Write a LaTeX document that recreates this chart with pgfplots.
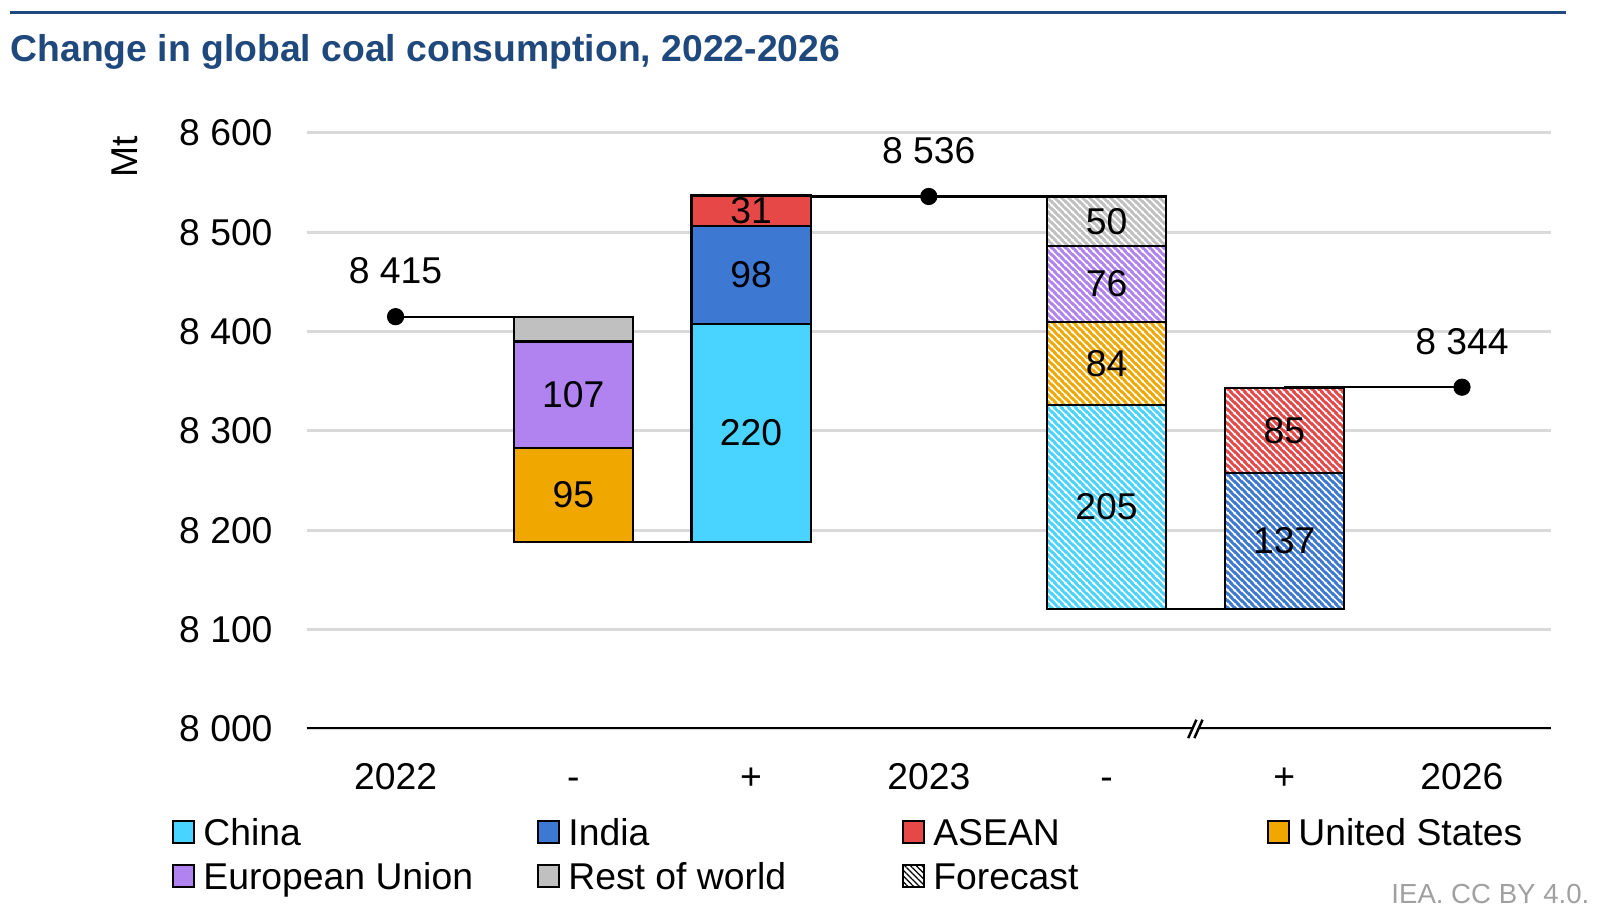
\documentclass[border=0pt]{standalone}
\usepackage{fontspec}
\setmainfont{Liberation Sans}
\usepackage{pgfplots}
\usepackage{pgfplotstable}
\pgfplotsset{compat=1.18}
\usetikzlibrary{patterns,patterns.meta}

\definecolor{cChina}{RGB}{72,212,255}
\definecolor{cIndia}{RGB}{61,120,211}
\definecolor{cASEAN}{RGB}{230,72,72}
\definecolor{cUS}{RGB}{240,168,0}
\definecolor{cEU}{RGB}{176,131,240}
\definecolor{cRest}{RGB}{192,192,192}
\definecolor{cTitle}{RGB}{31,73,125}
\definecolor{cGrid}{RGB}{217,217,217}
\definecolor{cFoot}{RGB}{160,160,160}

% hatched (forecast) patterns: coloured background with white diagonal stripes
\newcommand{\declhatch}[2]{%
  \pgfdeclarepatterninherentlycolored{#1}{\pgfpointorigin}{\pgfpoint{3.3bp}{3.3bp}}{\pgfpoint{3.3bp}{3.3bp}}{%
    \pgfsetfillcolor{#2}%
    \pgfpathrectangle{\pgfpoint{-0.2bp}{-0.2bp}}{\pgfpoint{3.7bp}{3.7bp}}%
    \pgfusepath{fill}%
    \pgfsetstrokecolor{white}\pgfsetlinewidth{0.85bp}%
    \pgfpathmoveto{\pgfpoint{-1bp}{1bp}}\pgfpathlineto{\pgfpoint{1bp}{-1bp}}%
    \pgfpathmoveto{\pgfpoint{-1bp}{4.3bp}}\pgfpathlineto{\pgfpoint{4.3bp}{-1bp}}%
    \pgfpathmoveto{\pgfpoint{2.3bp}{4.3bp}}\pgfpathlineto{\pgfpoint{4.3bp}{2.3bp}}%
    \pgfusepath{stroke}}}
\declhatch{hChina}{cChina}
\declhatch{hIndia}{cIndia}
\declhatch{hASEAN}{cASEAN}
\declhatch{hUS}{cUS}
\declhatch{hEU}{cEU}
\declhatch{hRest}{cRest}

\pgfplotstableread{
x base China ChinaF India IndiaF US USF EU EUF ASEAN ASEANF Rest RestF
1 8188 0 0 0 0 95 0 107 0 0 0 25 0
2 8188 220 0 98 0 0 0 0 0 31 0 0 0
4 8121 0 205 0 0 0 84 0 76 0 0 0 50
5 8121 0 0 0 137 0 0 0 0 0 85 0 0
}\bars

\pgfplotstableread{
x y label
1 8235.5 95
1 8336.5 107
2 8298 220
2 8457 98
2 8521.5 31
4 8223.5 205
4 8368 84
4 8448 76
4 8511 50
5 8189.5 137
5 8300.5 85
}\seglabels

\pgfplotsset{
  common/.style={scale only axis, width=608.5bp, height=291.5bp,
    xmin=-0.5, xmax=6.5, ymin=8000, ymax=8600, at={(0,0)}, anchor=south west},
  solid bar/.style={fill=#1, draw=black, line width=1bp},
  fc bar/.style={pattern=#1, draw=black, line width=1bp},
  legbox/.style={legend image code/.code={\draw[##1, line width=1bp] (0bp,1.25bp) rectangle (10.5bp,11.75bp);}},
}

\begin{document}
\begin{tikzpicture}[font=\fontsize{18.25bp}{22bp}\selectfont]

% axis A: grid, ticks, connectors
\begin{axis}[common,
  axis line style={draw=none}, major tick length=0pt,
  ytick={8000,8100,...,8600},
  yticklabels={8 000,8 100,8 200,8 300,8 400,8 500,8 600},
  xtick={0,1,2,3,4,5,6},
  xticklabels={2022,-,+,2023,-,+,2026},
  ymajorgrids, grid style={cGrid, line width=1.5bp},
  yticklabel style={anchor=east, inner sep=0pt, xshift=-16.5bp},
  xticklabel style={anchor=base, inner sep=0pt, yshift=-29.5bp},
]
\addplot[black, line width=1bp, mark=none] coordinates {(0,8415) (1,8415)};
\addplot[black, line width=1bp, mark=none] coordinates {(1,8188) (2,8188)};
\addplot[black, line width=1bp, mark=none] coordinates {(2,8536) (4,8536)};
\addplot[black, line width=1bp, mark=none] coordinates {(4,8121) (5,8121)};
\addplot[black, line width=1bp, mark=none] coordinates {(5,8344) (6,8344)};
\draw[black, line width=1.5bp] (axis cs:-0.5,8000) -- (axis cs:6.5,8000);
\coordinate (brk) at (axis cs:4.5,8000);
\end{axis}

% axis B: stacked bars
\begin{axis}[common, hide axis, ybar stacked, bar width=0.67,
  legend columns=4, legend cell align=left,
  legend style={draw=none, fill=none, inner sep=0pt, outer sep=0pt,
    at={(-0.10847,-0.13293)}, anchor=north west, row sep=1.75bp,
    /tikz/every odd column/.style={column sep=4bp},
    nodes={inner sep=0pt, anchor=base west}},
]
\addplot[draw=none, fill=none, forget plot] table[x=x, y=base]{\bars};
\addplot[solid bar=cChina, forget plot] table[x=x, y=China]{\bars};
\addplot[fc bar=hChina, forget plot] table[x=x, y=ChinaF]{\bars};
\addplot[solid bar=cIndia, forget plot] table[x=x, y=India]{\bars};
\addplot[fc bar=hIndia, forget plot] table[x=x, y=IndiaF]{\bars};
\addplot[solid bar=cUS, forget plot] table[x=x, y=US]{\bars};
\addplot[fc bar=hUS, forget plot] table[x=x, y=USF]{\bars};
\addplot[solid bar=cEU, forget plot] table[x=x, y=EU]{\bars};
\addplot[fc bar=hEU, forget plot] table[x=x, y=EUF]{\bars};
\addplot[solid bar=cASEAN, forget plot] table[x=x, y=ASEAN]{\bars};
\addplot[fc bar=hASEAN, forget plot] table[x=x, y=ASEANF]{\bars};
\addplot[solid bar=cRest, forget plot] table[x=x, y=Rest]{\bars};
\addplot[fc bar=hRest, forget plot] table[x=x, y=RestF]{\bars};

\addlegendimage{legbox, fill=cChina, draw=black}
\addlegendentry{\raisebox{0pt}[18.25bp][5.25bp]{\makebox[163bp][l]{China}}}
\addlegendimage{legbox, fill=cIndia, draw=black}
\addlegendentry{\raisebox{0pt}[18.25bp][5.25bp]{\makebox[163bp][l]{India}}}
\addlegendimage{legbox, fill=cASEAN, draw=black}
\addlegendentry{\raisebox{0pt}[18.25bp][5.25bp]{\makebox[163bp][l]{ASEAN}}}
\addlegendimage{legbox, fill=cUS, draw=black}
\addlegendentry{\raisebox{0pt}[18.25bp][5.25bp]{\makebox[163bp][l]{United States}}}
\addlegendimage{legbox, fill=cEU, draw=black}
\addlegendentry{\raisebox{0pt}[18.25bp][5.25bp]{\makebox[163bp][l]{European Union}}}
\addlegendimage{legbox, fill=cRest, draw=black}
\addlegendentry{\raisebox{0pt}[18.25bp][5.25bp]{\makebox[163bp][l]{Rest of world}}}
\addlegendimage{legbox, draw=black, pattern={Lines[angle=-45,distance=2bp,line width=0.6bp]}, pattern color=black}
\addlegendentry{\raisebox{0pt}[18.25bp][5.25bp]{\makebox[163bp][l]{Forecast}}}
\end{axis}

% axis C: points and labels
\begin{axis}[common, hide axis, clip=false]
\addplot[only marks, mark=*, mark size=4bp, black,
  nodes near coords, point meta=explicit symbolic,
  every node near coord/.append style={anchor=base, yshift=16bp, inner sep=0pt, text=black}]
  coordinates {(0,8415) [8 415] (3,8536) [8 536] (6,8344) [8 344]};
\addplot[draw=none, mark=none, nodes near coords, point meta=explicit symbolic,
  every node near coord/.append style={anchor=center, inner sep=0pt, text=black}]
  table[x=x, y=y, meta=label]{\seglabels};
\end{axis}

% axis break
\begin{scope}[shift={(brk)}]
\fill[white] (-3.5bp,-4.5bp) -- (0.5bp,4.5bp) -- (3.5bp,4.5bp) -- (-0.5bp,-4.5bp) -- cycle;
\draw[black, line width=1.2bp] (-3.5bp,-4.5bp) -- (0.5bp,4.5bp);
\draw[black, line width=1.2bp] (-0.5bp,-4.5bp) -- (3.5bp,4.5bp);
\end{scope}

% title, rule, unit, footer
\draw[cTitle, line width=1.5bp] (-145bp,350.25bp) -- (616bp,350.25bp);
\node[anchor=base west, inner sep=0pt, text=cTitle, font=\bfseries\fontsize{18.25bp}{22bp}\selectfont]
  at (-145bp,326.5bp) {Change in global coal consumption, 2022-2026};
\node[rotate=90, inner sep=0pt] at (-89bp,280bp) {Mt};
\node[anchor=base east, inner sep=0pt, text=cFoot, font=\fontsize{13.5bp}{16bp}\selectfont]
  at (627.5bp,-85.5bp) {IEA. CC BY 4.0.};

\pgfresetboundingbox
\useasboundingbox (-150bp,-94bp) rectangle (634bp,356.5bp);
\end{tikzpicture}
\end{document}
